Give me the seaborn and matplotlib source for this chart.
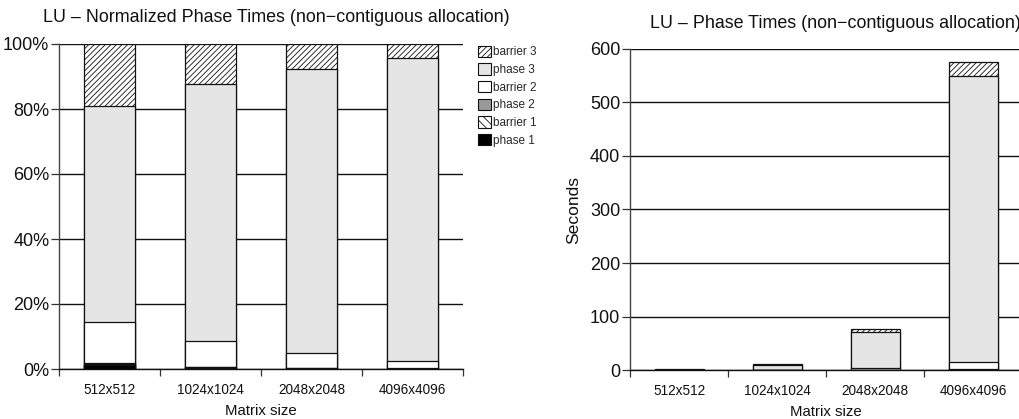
import matplotlib
matplotlib.use("Agg")
import matplotlib.pyplot as plt
from matplotlib.patches import Patch
from matplotlib.ticker import FuncFormatter, FixedLocator
import numpy as np
import pandas as pd
import seaborn as sns

sns.set_theme(style="white")
plt.rcParams["font.family"] = ["Liberation Sans", "DejaVu Sans"]
plt.rcParams["hatch.linewidth"] = 0.6

# Matrix sizes and per-phase share of total run time (percent)
sizes = ["512x512", "1024x1024", "2048x2048", "4096x4096"]
phase1 = [1.3, 0.4, 0.15, 0.1]
barrier1 = [0.2, 0.1, 0.05, 0.05]
phase2 = [0.3, 0.1, 0.1, 0.05]
barrier2 = [12.7, 8.1, 4.6, 2.4]
phase3 = [66.5, 78.9, 87.4, 93.0]
barrier3 = [19.0, 12.4, 7.7, 4.4]
# Total run time in seconds
total_seconds = [1.0, 10.6, 76.0, 575.0]

series = [
    ("phase 1", phase1, "#000000", None),
    ("barrier 1", barrier1, "#ffffff", "\\\\\\\\"),
    ("phase 2", phase2, "#999999", None),
    ("barrier 2", barrier2, "#ffffff", None),
    ("phase 3", phase3, "#e5e5e5", None),
    ("barrier 3", barrier3, "#ffffff", "//////"),
]

pct = pd.DataFrame({name: vals for name, vals, _, _ in series}, index=sizes)
cum_pct = pct.cumsum(axis=1)
pct_norm = cum_pct.div(cum_pct.iloc[:, -1], axis=0) * 100
cum_sec = cum_pct.div(cum_pct.iloc[:, -1], axis=0).mul(total_seconds, axis=0)

fig = plt.figure(figsize=(10.19, 4.19), dpi=100)
ax1 = fig.add_axes([59 / 1019, 1 - 369 / 419, 404 / 1019, 325 / 419])
ax2 = fig.add_axes([630 / 1019, 1 - 370 / 419, 392 / 1019, 321 / 419])


def draw_stack(ax, cum):
    # draw cumulative bars from the top segment down so each layer covers the next
    for name, _, color, hatch in reversed(series):
        df = pd.DataFrame({"size": sizes, "value": cum[name].values})
        sns.barplot(data=df, x="size", y="value", order=sizes, ax=ax,
                    color=color, width=0.5, errorbar=None, saturation=1,
                    edgecolor="#111111", linewidth=0.9, hatch=hatch)
    ax.set_axisbelow(True)
    ax.yaxis.grid(True, color="#111111", linewidth=1.0)
    ax.xaxis.grid(False)
    for side in ("top", "right"):
        ax.spines[side].set_visible(False)
    ax.spines["left"].set_color("#444444")
    ax.spines["bottom"].set_color("#111111")
    ax.spines["left"].set_linewidth(1.0)
    ax.spines["bottom"].set_linewidth(1.0)
    ax.set_xlim(-0.5, 3.5)
    ax.tick_params(axis="x", which="major", length=0, labelsize=9.8, pad=10,
                   colors="#111111")
    ax.xaxis.set_minor_locator(FixedLocator([-0.5, 0.5, 1.5, 2.5, 3.5]))
    ax.tick_params(axis="x", which="minor", length=5, width=0.9,
                   color="#333333", bottom=True)
    ax.tick_params(axis="y", which="major", left=True, length=6, width=0.9,
                   color="#333333", labelsize=13, pad=1, labelcolor="#111111")
    ax.set_xlabel("Matrix size", fontsize=10.8, labelpad=5, color="#111111")


draw_stack(ax1, pct_norm)
ax1.set_ylim(0, 100)
ax1.set_yticks(np.arange(0, 101, 20))
ax1.yaxis.set_major_formatter(FuncFormatter(lambda v, _: f"{v:.0f}%"))
ax1.set_ylabel("")

draw_stack(ax2, cum_sec)
ax2.set_ylim(0, 600)
ax2.set_yticks(np.arange(0, 601, 100))
ax2.set_ylabel("Seconds", fontsize=12.6, labelpad=6, color="#111111")

fig.text(276 / 1019, 1 - 18 / 419,
         "LU \u2013 Normalized Phase Times (non\u2212contiguous allocation)",
         ha="center", va="center", fontsize=12.9, color="#111111")
fig.text(835 / 1019, 1 - 23 / 419,
         "LU \u2013 Phase Times (non\u2212contiguous allocation)",
         ha="center", va="center", fontsize=12.9, color="#111111")

handles = [Patch(facecolor=c, edgecolor="#111111", hatch=h, linewidth=0.8, label=n)
           for n, _, c, h in reversed(series)]
fig.legend(handles=handles, loc="upper left",
           bbox_to_anchor=(473 / 1019, 1 - 41 / 419), frameon=False,
           fontsize=8.5, handlelength=1.1, handleheight=1.1,
           labelspacing=0.42, handletextpad=0.2, borderaxespad=0)

fig.savefig("out.png", dpi=100)
